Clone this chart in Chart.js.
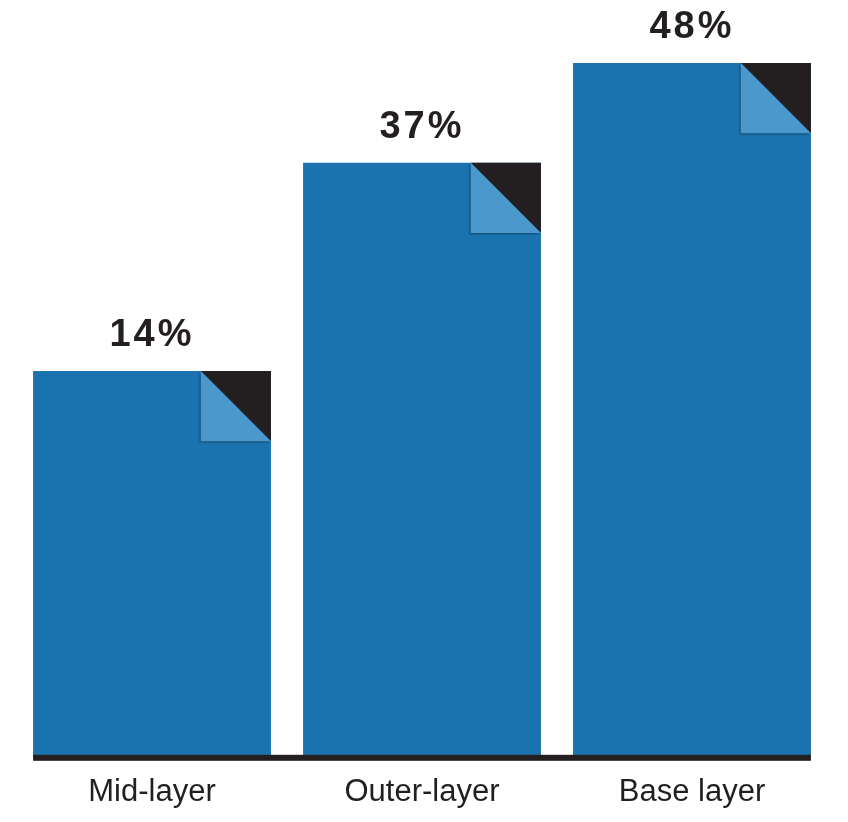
<!DOCTYPE html>
<html>
<head>
<meta charset="utf-8">
<script src="https://cdn.jsdelivr.net/npm/chart.js@4.4.1/dist/chart.umd.min.js"></script>
<style>
  html, body { margin: 0; padding: 0; background: #ffffff; }
  #wrap { width: 848px; height: 822px; }
</style>
</head>
<body>
<div id="wrap"><canvas id="layerChart"></canvas></div>
<script>
// data
const categories = ["Mid-layer", "Outer-layer", "Base layer"];
const shares = [14, 37, 48];
// value axis does not start at zero in the original
const yMin = -28.7;
const yMax = 50;

const BLUE = "#1a73ae";
const LIGHT = "#4b98cc";
const INK = "#231f20";

/* =========================
   FOLDED CORNERS, LABELS, BASELINE
========================= */
const decorPlugin = {
  id: "decor",
  afterDatasetsDraw(chart) {
    const ctx = chart.ctx;
    const bars = chart.getDatasetMeta(0).data;

    ctx.save();
    bars.forEach((bar, i) => {
      const left = bar.x - bar.width / 2;
      const right = bar.x + bar.width / 2;
      const top = bar.y;
      const s = bar.width * 0.295;

      // black upper triangle
      ctx.fillStyle = INK;
      ctx.beginPath();
      ctx.moveTo(right - s, top);
      ctx.lineTo(right, top);
      ctx.lineTo(right, top + s);
      ctx.closePath();
      ctx.fill();

      // light blue flap with soft shadow
      ctx.save();
      ctx.shadowColor = "rgba(0,0,0,0.35)";
      ctx.shadowBlur = 2;
      ctx.shadowOffsetX = -1;
      ctx.shadowOffsetY = 1;
      ctx.fillStyle = LIGHT;
      ctx.beginPath();
      ctx.moveTo(right - s, top);
      ctx.lineTo(right, top + s);
      ctx.lineTo(right - s, top + s);
      ctx.closePath();
      ctx.fill();
      ctx.restore();

      // value label
      ctx.fillStyle = INK;
      ctx.font = "bold 38px 'Liberation Sans', Arial, sans-serif";
      if ("letterSpacing" in ctx) ctx.letterSpacing = "3px";
      ctx.textAlign = "center";
      ctx.textBaseline = "alphabetic";
      ctx.fillText(shares[i] + "%", bar.x, top - 25);
      if ("letterSpacing" in ctx) ctx.letterSpacing = "0px";
    });

    // thick baseline under the bars
    const first = bars[0];
    const last = bars[bars.length - 1];
    const baseY = chart.scales.y.getPixelForValue(yMin);
    ctx.fillStyle = INK;
    ctx.fillRect(first.x - first.width / 2, baseY - 3, (last.x + last.width / 2) - (first.x - first.width / 2), 6);
    ctx.restore();
  }
};

new Chart(document.getElementById("layerChart"), {
  type: "bar",
  data: {
    labels: categories,
    datasets: [{
      data: shares,
      base: yMin,
      backgroundColor: BLUE,
      borderWidth: 0,
      barPercentage: 0.881,
      categoryPercentage: 1
    }]
  },
  options: {
    responsive: true,
    maintainAspectRatio: false,
    animation: false,
    layout: { padding: { top: 45, bottom: -5, left: 17, right: 21 } },
    plugins: {
      legend: { display: false },
      tooltip: { enabled: false }
    },
    scales: {
      x: {
        grid: { display: false, drawTicks: false },
        border: { display: false },
        ticks: {
          color: INK,
          padding: 16,
          font: { family: "'Liberation Sans', Arial, sans-serif", size: 31 }
        }
      },
      y: {
        display: false,
        min: yMin,
        max: yMax
      }
    }
  },
  plugins: [decorPlugin]
});
</script>
</body>
</html>
